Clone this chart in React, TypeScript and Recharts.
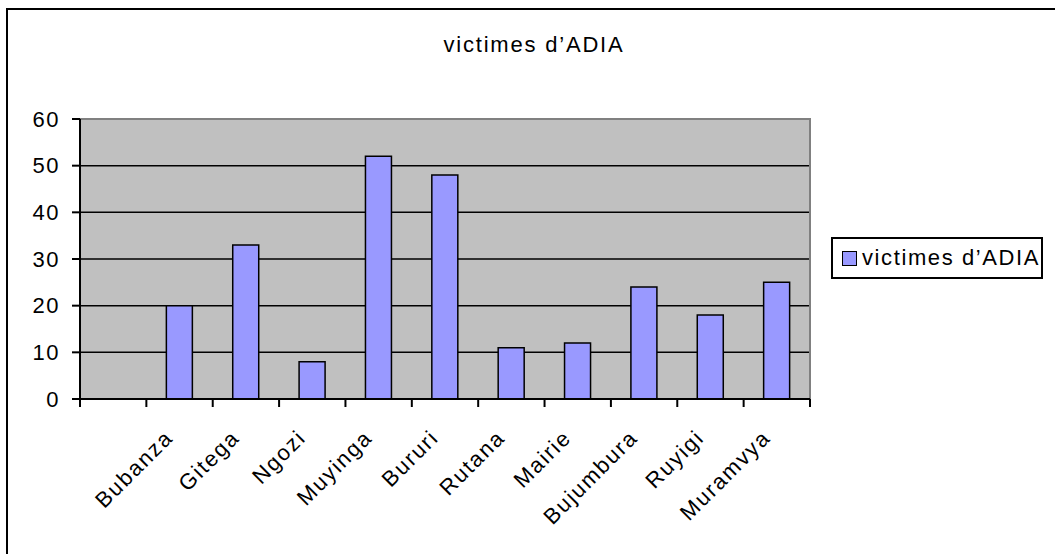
import React from 'react';
import { BarChart, Bar, XAxis, YAxis, CartesianGrid, ReferenceArea, Legend } from 'recharts';

const categories = ['', 'Bubanza', 'Gitega', 'Ngozi', 'Muyinga', 'Bururi', 'Rutana', 'Mairie', 'Bujumbura', 'Ruyigi', 'Muramvya'];
const victimes: (number | null)[] = [null, 20, 33, 8, 52, 48, 11, 12, 24, 18, 25];
const yTicks = [0, 10, 20, 30, 40, 50, 60];
const gridValues = [10, 20, 30, 40, 50];
const seriesName = 'victimes d\u2019ADIA';
const chartTitle = 'victimes d\u2019ADIA';

const data = categories.map((name, i) => ({ name, victimes: victimes[i] }));

const FONT = "Arial, 'Liberation Sans', sans-serif";
const TICK_LEN = 8;

const CatTick = (props: any) => {
  const { x, y, payload, index, visibleTicksCount } = props;
  const half = payload && typeof payload.offset === 'number' ? payload.offset : 0;
  const isLast = index === (visibleTicksCount ?? categories.length) - 1;
  return (
    <g>
      {half > 0 && (
        <line x1={x - half} x2={x - half} y1={y} y2={y + TICK_LEN} stroke="#000" strokeWidth={2} />
      )}
      {half > 0 && isLast && (
        <line x1={x + half} x2={x + half} y1={y} y2={y + TICK_LEN} stroke="#000" strokeWidth={2} />
      )}
      {payload && payload.value ? (
        <g transform={`translate(${x - 5},${y + 40})`}>
          <text
            transform="rotate(-45)"
            textAnchor="end"
            fontFamily={FONT}
            fontSize={22}
            letterSpacing={1.8}
            fill="#000"
          >
            {payload.value}
          </text>
        </g>
      ) : null}
    </g>
  );
};

const renderLegend = () => (
  <div
    style={{
      boxSizing: 'border-box',
      width: 212,
      height: 42,
      border: '2px solid #000',
      background: '#fff',
      display: 'flex',
      alignItems: 'center',
      paddingLeft: 9,
      fontFamily: FONT,
    }}
  >
    <span
      style={{
        boxSizing: 'border-box',
        display: 'inline-block',
        width: 15,
        height: 15,
        border: '1.5px solid #000',
        background: '#9999FF',
        marginRight: 5,
      }}
    />
    <span style={{ fontSize: 22, letterSpacing: 1.6, color: '#000', whiteSpace: 'nowrap' }}>{seriesName}</span>
  </div>
);

export default function App() {
  return (
    <div style={{ position: 'absolute', left: 0, top: 0, width: 1055, height: 554, overflow: 'hidden', background: '#fff' }}>
      <div
        style={{
          position: 'absolute',
          left: 6,
          top: 8,
          width: 1049,
          height: 546,
          borderLeft: '2px solid #000',
          borderTop: '2px solid #000',
          boxSizing: 'border-box',
        }}
      />
      <div
        style={{
          position: 'absolute',
          left: 334,
          top: 32,
          width: 400,
          textAlign: 'center',
          fontFamily: FONT,
          fontSize: 22,
          letterSpacing: 1.8,
          color: '#000',
          whiteSpace: 'nowrap',
        }}
      >
        {chartTitle}
      </div>
      <div style={{ position: 'absolute', left: 0, top: 0 }}>
        <BarChart
          width={1055}
          height={554}
          data={data}
          margin={{ top: 119, right: 245, left: 0, bottom: 0 }}
          barCategoryGap={0}
        >
          <CartesianGrid
            vertical={false}
            horizontalValues={gridValues}
            stroke="#000"
            strokeWidth={1.5}
            fill="#C0C0C0"
            fillOpacity={1}
          />
          <ReferenceArea y1={0} y2={60} fill="none" stroke="#808080" strokeWidth={2} />
          <XAxis
            dataKey="name"
            interval={0}
            tickLine={false}
            tickSize={0}
            tickMargin={0}
            axisLine={{ stroke: '#000', strokeWidth: 2 }}
            height={155}
            tick={<CatTick />}
          />
          <YAxis
            domain={[0, 60]}
            ticks={yTicks}
            interval={0}
            width={80}
            tickSize={8}
            tickMargin={12}
            tickLine={{ stroke: '#000', strokeWidth: 2 }}
            axisLine={{ stroke: '#000', strokeWidth: 2 }}
            tick={{ fontFamily: FONT, fontSize: 22, fill: '#000', letterSpacing: 1.5 }}
          />
          <Bar
            dataKey="victimes"
            name={seriesName}
            fill="#9999FF"
            stroke="#000"
            strokeWidth={1.5}
            barSize={26}
            isAnimationActive={false}
          />
          <Legend
            layout="horizontal"
            align="center"
            verticalAlign="middle"
            content={renderLegend}
            wrapperStyle={{ position: 'absolute', left: 831, top: 237, width: 'auto', height: 'auto' }}
          />
        </BarChart>
      </div>
    </div>
  );
}
